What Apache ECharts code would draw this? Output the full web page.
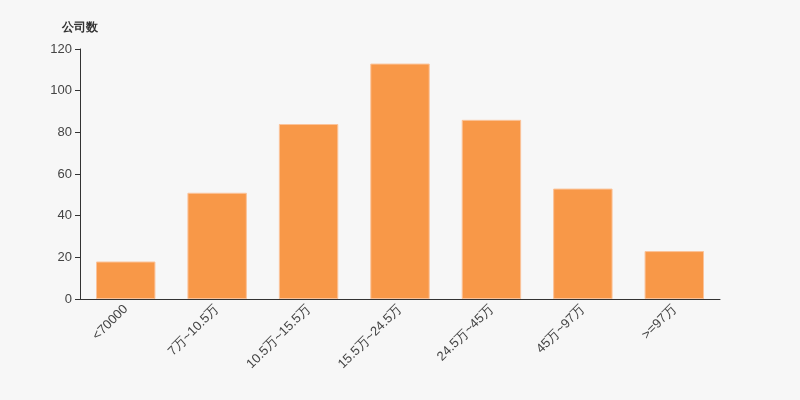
<!DOCTYPE html>
<html>
<head>
<meta charset="utf-8">
<script src="https://cdn.jsdelivr.net/npm/echarts@6/dist/echarts.min.js"></script>
<style>html,body{margin:0;padding:0;background:#f7f7f7;}#c{width:800px;height:400px;}</style>
</head>
<body>
<div id="c"></div>
<script>
var categories = ['<70000', '7万~10.5万', '10.5万~15.5万', '15.5万~24.5万', '24.5万~45万', '45万~97万', '>=97万'];
var values = [18, 51, 84, 113, 86, 53, 23];
var yTicks = [0, 20, 40, 60, 80, 100, 120];

var chart = echarts.init(document.getElementById('c'));
chart.setOption({
  backgroundColor: '#f7f7f7',
  animation: false,
  grid: { left: 80, right: 80, top: 49, bottom: 101 },
  xAxis: {
    type: 'category',
    data: categories,
    axisLine: { lineStyle: { color: '#333' } },
    axisTick: { lineStyle: { color: '#333' } },
    axisLabel: { rotate: 45, color: '#444', fontSize: 13, fontFamily: 'sans-serif', interval: 0 }
  },
  yAxis: {
    type: 'value',
    name: '公司数',
    nameGap: 15,
    nameTextStyle: { color: '#333', fontWeight: 'bold', fontSize: 12, align: 'center' },
    min: yTicks[0],
    max: yTicks[yTicks.length - 1],
    interval: 20,
    axisLine: { show: true, lineStyle: { color: '#333' } },
    axisTick: { show: true, lineStyle: { color: '#333' } },
    splitLine: { show: false },
    axisLabel: { color: '#444', fontSize: 13 }
  },
  series: [{
    type: 'bar',
    data: values,
    barWidth: '65%',
    itemStyle: { color: '#f89848', borderColor: '#fbc39a', borderWidth: 1 }
  }]
});
</script>
</body>
</html>
